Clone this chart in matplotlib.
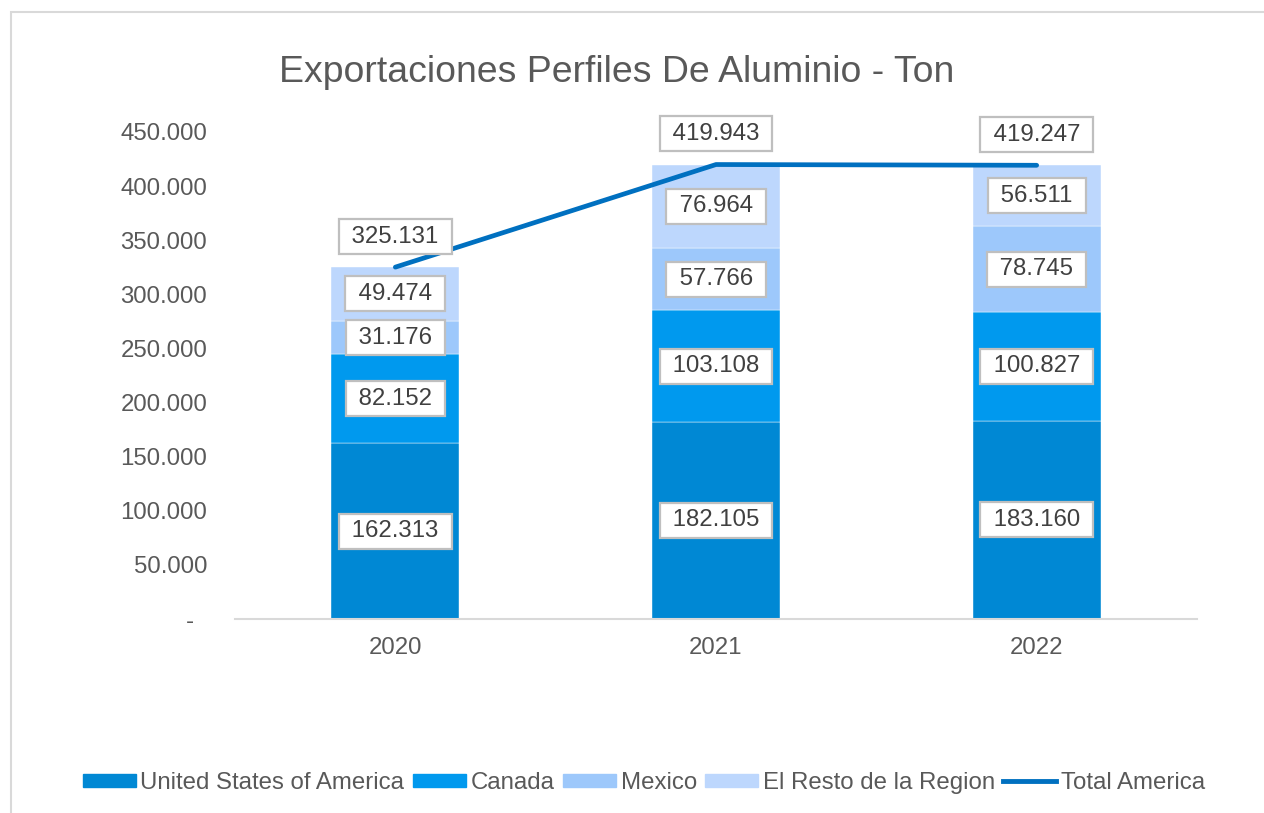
import matplotlib.pyplot as plt
from matplotlib.patches import Rectangle
from matplotlib.lines import Line2D
from matplotlib.ticker import FuncFormatter

plt.rcParams['font.family'] = ['Liberation Sans', 'DejaVu Sans']

years = ['2020', '2021', '2022']
usa = [162313, 182105, 183160]
canada = [82152, 103108, 100827]
mexico = [31176, 57766, 78745]
resto = [49474, 76964, 56511]
total = [325131, 419943, 419247]

names = ['United States of America', 'Canada', 'Mexico', 'El Resto de la Region']
colors = ['#0088D4', '#0099EE', '#9DC8FB', '#BDD7FD']
line_color = '#0070C0'
txt_color = '#595959'


def fmt(v):
    return f'{v:,.0f}'.replace(',', '.')


fig = plt.figure(figsize=(12.64, 8.13), dpi=100)
ax = fig.add_axes([235/1264, 1-619/813, 962/1264, 487/813])

x = range(len(years))
bottom = [0, 0, 0]
box = dict(boxstyle='square,pad=0.27', fc='white', ec='#BFBFBF', lw=1.6)
for vals, name, c in zip([usa, canada, mexico, resto], names, colors):
    ax.bar(x, vals, width=0.4, bottom=bottom, color=c, edgecolor='#FFFFFF',
           linewidth=0.3, label=name, zorder=2)
    for i, v in enumerate(vals):
        ax.text(i, bottom[i] + v / 2, ' ' + fmt(v) + ' ', ha='center', va='center',
                fontsize=17.3, color='#404040', bbox=box, zorder=5)
    bottom = [b + v for b, v in zip(bottom, vals)]

ax.plot(x, total, color=line_color, lw=3.4, solid_capstyle='round', zorder=3)
for i, v in enumerate(total):
    ax.annotate(' ' + fmt(v) + ' ', (i, v), xytext=(0, 22), textcoords='offset points',
                ha='center', va='center', fontsize=17.3, color='#404040',
                bbox=box, zorder=6)

ax.set_xlim(-0.5, 2.5)
ax.set_ylim(0, 450000)
ax.set_yticks(range(0, 450001, 50000))
ax.yaxis.set_major_formatter(FuncFormatter(lambda v, p: '-  ' if v == 0 else fmt(v)))
ax.set_xticks(list(x))
ax.set_xticklabels(years)
ax.tick_params(axis='both', length=0, labelsize=17.3, labelcolor=txt_color)
ax.tick_params(axis='y', pad=20)
ax.tick_params(axis='x', pad=13)
for s in ['top', 'right', 'left']:
    ax.spines[s].set_visible(False)
ax.spines['bottom'].set_color('#D9D9D9')
ax.spines['bottom'].set_linewidth(1.5)

fig.text(617/1264, 1-73/813, 'Exportaciones Perfiles De Aluminio - Ton',
         ha='center', va='center', fontsize=26.9, color=txt_color)

handles = [Rectangle((0, 0), 1, 1, color=c) for c in colors]
handles.append(Line2D([0], [0], color=line_color, lw=3.5))
leg = fig.legend(handles, names + ['Total America'], loc='center',
                 bbox_to_anchor=(644/1264, 1-783/813), ncol=5, frameon=False,
                 fontsize=17.3, handlelength=2.2, handleheight=0.5,
                 handletextpad=0.2, columnspacing=0.35)
for t in leg.get_texts():
    t.set_color(txt_color)

# chart border
fig.add_artist(Rectangle((11/1264, -0.05), 1.1, 1-12/813+0.05,
                         transform=fig.transFigure, fill=False,
                         ec='#D9D9D9', lw=1.5))

fig.savefig('out.png', dpi=100)
